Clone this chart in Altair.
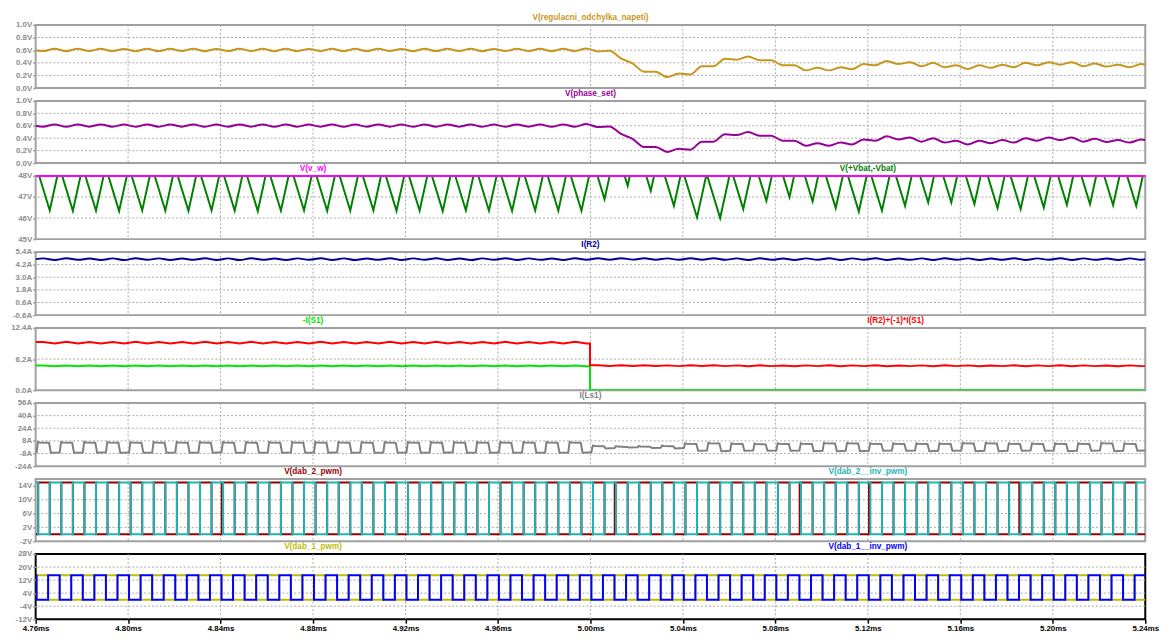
import altair as alt
import pandas as pd

FONT = "Liberation Sans"
GRID = "#a8a8a8"
FRAME = "#a0a0a0"
LABEL = "#8c8c8c"

T_START, T_END = 4.76, 5.24
X_TICKS = [4.76, 4.80, 4.84, 4.88, 4.92, 4.96, 5.00, 5.04, 5.08, 5.12, 5.16, 5.20, 5.24]
PLOT_W = 1124

# ---------------- Panel 1 / 2 : regulator error and phase set (samples every 5 us) ----
RIP_T0 = 4.7632
RIP_DT = 0.005
reg_start, reg_end = 0.60, 0.37
reg_vals = [
    0.585, 0.622, 0.584, 0.621, 0.586, 0.622, 0.585, 0.620, 0.584, 0.622, 0.585, 0.621,
    0.586, 0.622, 0.584, 0.620, 0.585, 0.622, 0.586, 0.621, 0.584, 0.622, 0.585, 0.620,
    0.586, 0.622, 0.584, 0.621, 0.585, 0.622, 0.586, 0.620, 0.584, 0.622, 0.585, 0.621,
    0.586, 0.622, 0.584, 0.620, 0.585, 0.622, 0.586, 0.621, 0.584, 0.622, 0.585, 0.628,
    0.58, 0.59, 0.47, 0.39, 0.26, 0.26, 0.175, 0.23, 0.215, 0.345, 0.345, 0.465,
    0.45, 0.50, 0.44, 0.44, 0.36, 0.36, 0.28, 0.32, 0.28, 0.33, 0.30, 0.38,
    0.36, 0.43, 0.38, 0.41, 0.345, 0.40, 0.33, 0.36, 0.30, 0.36, 0.32, 0.37,
    0.33, 0.40, 0.36, 0.41, 0.37, 0.41, 0.345, 0.39, 0.34, 0.37, 0.33, 0.38,
]
phase_start, phase_end = 0.60, 0.37
phase_vals = [
    0.585, 0.622, 0.584, 0.621, 0.586, 0.622, 0.585, 0.620, 0.584, 0.622, 0.585, 0.621,
    0.586, 0.622, 0.584, 0.620, 0.585, 0.622, 0.586, 0.621, 0.584, 0.622, 0.585, 0.620,
    0.586, 0.622, 0.584, 0.621, 0.585, 0.622, 0.586, 0.620, 0.584, 0.622, 0.585, 0.621,
    0.586, 0.622, 0.584, 0.620, 0.585, 0.622, 0.586, 0.621, 0.584, 0.622, 0.585, 0.628,
    0.58, 0.59, 0.47, 0.39, 0.26, 0.26, 0.18, 0.23, 0.215, 0.345, 0.345, 0.465,
    0.45, 0.50, 0.44, 0.44, 0.36, 0.36, 0.28, 0.32, 0.28, 0.33, 0.30, 0.38,
    0.36, 0.43, 0.38, 0.41, 0.345, 0.40, 0.33, 0.36, 0.30, 0.36, 0.32, 0.37,
    0.33, 0.40, 0.36, 0.41, 0.37, 0.41, 0.345, 0.39, 0.34, 0.37, 0.33, 0.38,
]

# ---------------- Panel 3 : battery voltage dips (one minimum per 10 us cycle) -------
V_W = 48.0
VBAT_TMIN0 = 4.7661
VBAT_TOP = 48.15
VBAT_FALL = 0.36   # V/us
VBAT_RISE = 0.50   # V/us
vbat_min = [
    46.36, 46.34, 46.35, 46.33, 46.36, 46.35, 46.34, 46.36, 46.35, 46.33, 46.35, 46.36,
    46.34, 46.35, 46.36, 46.34, 46.35, 46.33, 46.36, 46.35, 46.34, 46.36, 46.35,
    46.35, 46.90, 47.53, 47.29, 46.58, 46.03, 46.00, 46.43, 46.82, 47.00, 46.79, 46.47,
    46.31, 46.35, 46.58, 46.74, 46.74, 46.66, 46.47, 46.43, 46.50, 46.63, 46.66, 46.61,
    46.58,
]

# ---------------- Panel 4 : I(R2), samples every 5 us from 4.7633 ms ------------------
IR2_T0 = 4.7633
ir2_start, ir2_end = 4.72, 4.72
ir2_vals = [
    4.79, 4.64, 4.80, 4.65, 4.78, 4.64, 4.79, 4.63, 4.80, 4.65, 4.79, 4.64,
    4.78, 4.65, 4.80, 4.64, 4.79, 4.63, 4.80, 4.65, 4.78, 4.64, 4.79, 4.65,
    4.80, 4.64, 4.79, 4.63, 4.78, 4.65, 4.80, 4.64, 4.79, 4.65, 4.80, 4.64,
    4.78, 4.63, 4.79, 4.65, 4.80, 4.64, 4.79, 4.65, 4.78, 4.64, 4.80, 4.65,
    4.80, 4.66, 4.81, 4.67, 4.80, 4.66, 4.79, 4.65, 4.80, 4.66, 4.81, 4.65,
    4.79, 4.64, 4.80, 4.65, 4.78, 4.64, 4.79, 4.65, 4.80, 4.64, 4.79, 4.65,
    4.80, 4.64, 4.78, 4.65, 4.79, 4.64, 4.80, 4.65, 4.79, 4.64, 4.78, 4.65,
    4.80, 4.64, 4.79, 4.65, 4.80, 4.64, 4.79, 4.65, 4.78, 4.64, 4.79, 4.65,
]

# ---------------- Panel 5 : -I(S1) and I(R2)-I(S1) ------------------------------------
T_S1_OFF = 4.9998
sum_before = [
    9.62, 9.30, 9.63, 9.31, 9.61, 9.30, 9.62, 9.29, 9.63, 9.31, 9.62, 9.30,
    9.61, 9.31, 9.63, 9.30, 9.62, 9.29, 9.63, 9.31, 9.61, 9.30, 9.62, 9.31,
    9.63, 9.30, 9.62, 9.29, 9.61, 9.31, 9.63, 9.30, 9.62, 9.31, 9.63, 9.30,
    9.61, 9.29, 9.62, 9.31, 9.63, 9.30, 9.62, 9.31, 9.61, 9.30, 9.63, 9.31,
]
sum_after = [
    4.95, 4.80, 4.96, 4.81, 4.95, 4.80, 4.94, 4.79, 4.95, 4.80, 4.96, 4.79,
    4.94, 4.78, 4.95, 4.79, 4.93, 4.78, 4.94, 4.79, 4.95, 4.78, 4.94, 4.79,
    4.95, 4.78, 4.93, 4.79, 4.94, 4.78, 4.95, 4.79, 4.94, 4.78, 4.93, 4.79,
    4.95, 4.78, 4.94, 4.79, 4.95, 4.78, 4.94, 4.79, 4.93, 4.78, 4.94, 4.79,
]
s1_before = [
    4.90, 4.76, 4.91, 4.77, 4.90, 4.76, 4.91, 4.75, 4.90, 4.77, 4.91, 4.76,
    4.90, 4.77, 4.91, 4.76, 4.90, 4.75, 4.91, 4.77, 4.90, 4.76, 4.91, 4.77,
    4.90, 4.76, 4.91, 4.75, 4.90, 4.77, 4.91, 4.76, 4.90, 4.77, 4.91, 4.76,
    4.90, 4.75, 4.91, 4.77, 4.90, 4.76, 4.91, 4.77, 4.90, 4.76, 4.91, 4.77,
]
s1_after_level = 0.0

# ---------------- Panel 6 : I(Ls1) per 10 us cycle ------------------------------------
ls_rise_us = [
    0.4, 0.4, 0.4, 0.4, 0.4, 0.4, 0.4, 0.4, 0.4, 0.4, 0.4, 0.4,
    0.4, 0.4, 0.4, 0.4, 0.4, 0.4, 0.4, 0.4, 0.4, 0.4, 0.4, 0.4,
    0.4, 0.4, 0.4, 0.4, 0.4, 0.4, 0.4, 0.4, 0.4, 0.4, 0.4, 0.4,
    0.4, 0.4, 0.4, 0.4, 0.4, 0.4, 0.4, 0.4, 0.4, 0.4, 0.4, 0.4,
]
ls_fall_us = [
    5.8, 5.8, 5.8, 5.8, 5.8, 5.8, 5.8, 5.8, 5.8, 5.8, 5.8, 5.8,
    5.8, 5.8, 5.8, 5.8, 5.8, 5.8, 5.8, 5.8, 5.8, 5.8, 5.8, 5.8,
    5.8, 5.8, 5.8, 5.8, 5.8, 5.8, 5.8, 5.8, 5.8, 5.8, 5.8, 5.8,
    5.8, 5.8, 5.8, 5.8, 5.8, 5.8, 5.8, 5.8, 5.8, 5.8, 5.8, 5.8,
]
ls_high = [
    6.0, 6.0, 6.1, 6.0, 5.9, 6.0, 6.0, 6.1, 6.0, 5.9, 6.0, 6.0,
    6.1, 6.0, 6.0, 5.9, 6.0, 6.1, 6.0, 6.0, 5.9, 6.0, 6.0, 6.1,
    1.5, 0.8, 1.0, 1.5, 4.5, 5.0, 4.5, 4.0, 4.5, 4.5, 5.0, 5.0,
    4.5, 4.5, 4.5, 4.5, 5.0, 5.0, 4.5, 4.5, 4.5, 4.5, 5.0, 4.5,
]
ls_low = [
    -7.0, -7.0, -6.9, -7.0, -7.1, -7.0, -7.0, -6.9, -7.0, -7.1, -7.0, -7.0,
    -6.9, -7.0, -7.0, -7.1, -7.0, -6.9, -7.0, -7.0, -7.1, -7.0, -7.0, -6.9,
    -1.5, -0.5, -1.0, -1.5, -4.5, -5.0, -4.5, -4.5, -4.5, -5.0, -5.0, -5.0,
    -4.5, -4.5, -5.0, -4.5, -5.0, -5.0, -4.5, -4.5, -5.0, -4.5, -5.0, -4.5,
]

# ---------------- Panels 7 / 8 : gate drive PWM edges (us into each 10 us cycle) ------
PWM_HIGH, PWM_LOW = 15.0, 0.0
# dab_1__inv_pwm (blue): falls, then rises, once per cycle; dab_1_pwm is its complement
dab1i_fall_us = [
    0.4, 0.4, 0.4, 0.4, 0.4, 0.4, 0.4, 0.4, 0.4, 0.4, 0.4, 0.4,
    0.4, 0.4, 0.4, 0.4, 0.4, 0.4, 0.4, 0.4, 0.4, 0.4, 0.4, 0.4,
    0.4, 0.4, 0.4, 0.4, 0.4, 0.4, 0.4, 0.4, 0.4, 0.4, 0.4, 0.4,
    0.4, 0.4, 0.4, 0.4, 0.4, 0.4, 0.4, 0.4, 0.4, 0.4, 0.4, 0.4,
]
dab1i_rise_us = [
    5.4, 5.4, 5.4, 5.4, 5.4, 5.4, 5.4, 5.4, 5.4, 5.4, 5.4, 5.4,
    5.4, 5.4, 5.4, 5.4, 5.4, 5.4, 5.4, 5.4, 5.4, 5.4, 5.4, 5.4,
    5.4, 5.4, 5.4, 5.4, 5.4, 5.4, 5.4, 5.4, 5.4, 5.4, 5.4, 5.4,
    5.4, 5.4, 5.4, 5.4, 5.4, 5.4, 5.4, 5.4, 5.4, 5.4, 5.4, 5.4,
]
# dab_2__inv_pwm (teal)
dab2i_fall_us = [
    1.1, 1.1, 1.1, 1.1, 1.1, 1.1, 1.1, 1.1, 1.1, 1.1, 1.1, 1.1,
    1.1, 1.1, 1.1, 1.1, 1.1, 1.1, 1.1, 1.1, 1.1, 1.1, 1.1, 1.1,
    1.1, 1.1, 1.1, 1.1, 1.1, 1.1, 1.1, 1.1, 1.1, 1.1, 1.1, 1.1,
    1.1, 1.1, 1.1, 1.1, 1.1, 1.1, 1.1, 1.1, 1.1, 1.1, 1.1, 1.1,
]
dab2i_rise_us = [
    6.1, 6.1, 6.1, 6.1, 6.1, 6.1, 6.1, 6.1, 6.1, 6.1, 6.1, 6.1,
    6.1, 6.1, 6.1, 6.1, 6.1, 6.1, 6.1, 6.1, 6.1, 6.1, 6.1, 6.1,
    6.1, 6.1, 6.1, 6.1, 6.1, 6.1, 6.1, 6.1, 6.1, 6.1, 6.1, 6.1,
    6.1, 6.1, 6.1, 6.1, 6.1, 6.1, 6.1, 6.1, 6.1, 6.1, 6.1, 6.1,
]
# dab_2_pwm (dark red): rises, then falls, once per cycle (a few early edges visible)
dab2_rise_us = [
    1.1, 1.1, 1.1, 1.1, 1.1, 1.1, 1.1, 1.1, 0.5, 1.1, 1.1, 1.1,
    1.1, 1.1, 1.1, 1.1, 1.1, 1.1, 1.1, 1.1, 1.1, 1.1, 1.1, 1.1,
    1.1, 0.5, 1.1, 1.1, 1.1, 1.1, 1.1, 1.1, 1.1, 0.5, 1.1, 1.1,
    0.5, 1.1, 1.1, 1.1, 1.1, 1.1, 1.1, 1.1, 1.1, 1.1, 1.1, 1.1,
]
dab2_fall_us = [
    6.1, 6.1, 6.1, 6.1, 6.1, 6.1, 6.1, 6.1, 6.1, 6.1, 6.1, 6.1,
    6.1, 6.1, 6.1, 6.1, 6.1, 6.1, 6.1, 6.1, 6.1, 6.1, 6.1, 6.1,
    6.1, 6.1, 6.1, 6.1, 6.1, 6.1, 6.1, 6.1, 6.1, 6.1, 6.1, 6.1,
    6.1, 6.1, 6.1, 6.1, 6.1, 6.1, 5.5, 6.1, 6.1, 6.1, 6.1, 6.1,
]

CYCLE_MS = 0.01


# ======================= build tables =================================================
def sampled(t0, dt, vals, start, end):
    ts = [T_START] + [t0 + dt * j for j in range(len(vals))] + [T_END]
    vs = [start] + list(vals) + [end]
    return pd.DataFrame({"t": ts, "v": vs})


def vbat_table():
    pts = []
    tm = [VBAT_TMIN0 + CYCLE_MS * k for k in range(len(vbat_min))]
    a, f = VBAT_RISE * 1000, VBAT_FALL * 1000
    first_start = tm[0] - (VBAT_TOP - vbat_min[0]) / f
    pts.append((T_START, VBAT_TOP))
    if first_start > T_START:
        pts.append((first_start, VBAT_TOP))
    for k in range(len(tm)):
        pts.append((tm[k], vbat_min[k]))
        if k + 1 < len(tm):
            ts = (vbat_min[k + 1] - vbat_min[k] + a * tm[k] + f * tm[k + 1]) / (a + f)
            vs = vbat_min[k] + a * (ts - tm[k])
            if vs <= VBAT_TOP:
                pts.append((ts, vs))
            else:
                pts.append((tm[k] + (VBAT_TOP - vbat_min[k]) / a, VBAT_TOP))
                pts.append((tm[k + 1] - (VBAT_TOP - vbat_min[k + 1]) / f, VBAT_TOP))
    last_end = tm[-1] + (VBAT_TOP - vbat_min[-1]) / a
    if last_end < T_END:
        pts.append((last_end, VBAT_TOP))
        pts.append((T_END, VBAT_TOP))
    else:
        pts.append((T_END, vbat_min[-1] + a * (T_END - tm[-1])))
    return pd.DataFrame(pts, columns=["t", "v"])


def step_table(before, after, t0, dt, t_step):
    ts, vs = [T_START], [before[0]]
    for j, v in enumerate(before):
        ts.append(t0 + dt * j)
        vs.append(v)
    ts.append(t_step)
    vs.append(before[-1])
    ts.append(t_step + 1e-6)
    vs.append(after[0])
    for j, v in enumerate(after):
        ts.append(t0 + dt * (len(before) + j))
        vs.append(v)
    ts.append(T_END)
    vs.append(after[-1])
    return pd.DataFrame({"t": ts, "v": vs})


def ls_table():
    pts = [(T_START, ls_low[0] + 0.3)]
    for k in range(len(ls_high)):
        base = T_START + CYCLE_MS * k
        r = base + ls_rise_us[k] / 1000
        f = base + ls_fall_us[k] / 1000
        prev_lo = ls_low[k - 1] if k > 0 else ls_low[0]
        hi, lo = ls_high[k], ls_low[k]
        pts += [
            (r, prev_lo + 0.4),
            (r + 0.0006, hi + 0.6),
            (r + 0.0012, hi),
            (f, hi - 0.4),
            (f + 0.0008, lo),
        ]
    pts.append((T_END, ls_low[-1] + 0.3))
    return pd.DataFrame(pts, columns=["t", "v"])


def pwm_table(first_us, second_us, first_level, second_level):
    """Step trace: starts at second_level, switches to first_level at first_us and back
    to second_level at second_us in every 10 us cycle."""
    pts = [(T_START, second_level)]
    for k in range(len(first_us)):
        base = T_START + CYCLE_MS * k
        pts.append((base + first_us[k] / 1000, first_level))
        pts.append((base + second_us[k] / 1000, second_level))
    pts.append((T_END, second_level))
    return pd.DataFrame(pts, columns=["t", "v"])


# ======================= chart helpers ================================================
def label_expr(fmt, unit):
    return f"(datum.value < 0 ? '-' : '') + format(abs(datum.value), '{fmt}') + '{unit}'"


def panel(series, titles, ydom, yticks, fmt, unit, h, bottom=False, frame=FRAME):
    xscale = alt.Scale(domain=[T_START, T_END], nice=False, zero=False)
    yscale = alt.Scale(domain=ydom, nice=False, zero=False)
    if bottom:
        xaxis = alt.Axis(values=X_TICKS, labelExpr="format(datum.value, '.2f') + 'ms'",
                         grid=False, domain=False,
                         ticks=True, tickColor="black", tickSize=4, tickWidth=1.5,
                         labelColor="black", labelFontWeight="bold", labelFontSize=8,
                         labelFont=FONT, labelPadding=1, labelFlush=False, title=None)
    else:
        xaxis = alt.Axis(values=X_TICKS, labels=False, ticks=False, domain=False,
                         grid=False, title=None)
    yaxis = alt.Axis(values=yticks, labelExpr=label_expr(fmt, unit),
                     grid=False, domain=False,
                     tickColor=FRAME, tickSize=3, tickWidth=1.5, labelColor=LABEL,
                     labelFont=FONT, labelFontSize=8, labelFontWeight="bold",
                     labelPadding=1, labelFlush=False, title=None)
    X = alt.X("t:Q", scale=xscale, axis=xaxis)
    Y = alt.Y("v:Q", scale=yscale, axis=yaxis)
    layers = []
    ygrid = pd.DataFrame({"v": yticks[1:-1]})
    xgrid = pd.DataFrame({"t": X_TICKS[1:-1]})
    layers.append(alt.Chart(ygrid).mark_rule(color=GRID, strokeWidth=1, strokeDash=[2, 2])
                  .encode(y=Y))
    layers.append(alt.Chart(xgrid).mark_rule(color=GRID, strokeWidth=1, strokeDash=[2, 2])
                  .encode(x=X))
    for df, color, interp, clip in series:
        layers.append(
            alt.Chart(df).mark_line(color=color, strokeWidth=2, clip=clip, interpolate=interp)
            .encode(x=X, y=Y)
        )
    tdf = pd.DataFrame(titles, columns=["t", "label", "color"])
    layers.append(
        alt.Chart(tdf).mark_text(font=FONT, fontSize=8.3, fontWeight="bold",
                                 baseline="middle", align="center")
        .encode(x=X, y=alt.value(-7), text="label:N", color=alt.Color("color:N", scale=None))
    )
    return alt.layer(*layers).properties(
        width=PLOT_W, height=h, view=alt.ViewBackground(stroke=frame, strokeWidth=2)
    )


C_REG = "#c8961e"
C_PHASE = "#960096"
C_VW = "#ff00ff"
C_VBAT = "#008000"
C_IR2 = "#000096"
C_S1 = "#00e600"
C_SUM = "#ff0000"
C_LS = "#808080"
C_D2 = "#960000"
C_D2I = "#1eb4b4"
C_D1 = "#bebe00"
C_D1I = "#0000ff"

p1 = panel([(sampled(RIP_T0, RIP_DT, reg_vals, reg_start, reg_end), C_REG, "monotone", True)],
           [(5.00, "V(regulacni_odchylka_napeti)", C_REG)],
           [0, 1], [0, 0.2, 0.4, 0.6, 0.8, 1.0], ".1f", "V", 64)
p2 = panel([(sampled(RIP_T0, RIP_DT, phase_vals, phase_start, phase_end), C_PHASE, "monotone", True)],
           [(5.00, "V(phase_set)", C_PHASE)],
           [0, 1], [0, 0.2, 0.4, 0.6, 0.8, 1.0], ".1f", "V", 63)
p3 = panel([(vbat_table(), C_VBAT, "linear", True),
            (pd.DataFrame({"t": [T_START, T_END], "v": [V_W, V_W]}), C_VW, "linear", False)],
           [(4.88, "V(v_w)", C_VW), (5.12, "V(+Vbat,-Vbat)", C_VBAT)],
           [45, 48], [45, 46, 47, 48], ".0f", "V", 64)
p4 = panel([(sampled(IR2_T0, RIP_DT, ir2_vals, ir2_start, ir2_end), C_IR2, "monotone", True)],
           [(5.00, "I(R2)", C_IR2)],
           [-0.6, 5.4], [-0.6, 0.6, 1.8, 3.0, 4.2, 5.4], ".1f", "A", 64)
s1_df = pd.DataFrame({"t": [T_START] + [IR2_T0 + RIP_DT * j for j in range(len(s1_before))]
                      + [T_S1_OFF, T_S1_OFF + 1e-6, T_END],
                      "v": [s1_before[0]] + s1_before + [s1_before[-1], s1_after_level, s1_after_level]})
p5 = panel([(s1_df, C_S1, "linear", True),
            (step_table(sum_before, sum_after, IR2_T0, RIP_DT, T_S1_OFF), C_SUM, "linear", True)],
           [(4.88, "-I(S1)", C_S1), (5.132, "I(R2)+(-1)*I(S1)", C_SUM)],
           [0, 12.4], [0, 6.2, 12.4], ".1f", "A", 63)
p6 = panel([(ls_table(), C_LS, "linear", True)],
           [(5.00, "I(Ls1)", C_LS)],
           [-24, 56], [-24, -8, 8, 24, 40, 56], ".0f", "A", 64)
p7 = panel([(pwm_table(dab2_rise_us, dab2_fall_us, PWM_HIGH, PWM_LOW), C_D2, "step-after", True),
            (pwm_table(dab2i_fall_us, dab2i_rise_us, PWM_LOW, PWM_HIGH), C_D2I, "step-after", True)],
           [(4.88, "V(dab_2_pwm)", C_D2), (5.12, "V(dab_2__inv_pwm)", C_D2I)],
           [-2, 16], [-2, 2, 6, 10, 14], ".0f", "V", 63)
p8 = panel([(pwm_table(dab1i_fall_us, dab1i_rise_us, PWM_HIGH, PWM_LOW), C_D1, "step-after", True),
            (pwm_table(dab1i_fall_us, dab1i_rise_us, PWM_LOW, PWM_HIGH), C_D1I, "step-after", True)],
           [(4.88, "V(dab_1_pwm)", C_D1), (5.12, "V(dab_1__inv_pwm)", C_D1I)],
           [-12, 28], [-12, -4, 4, 12, 20, 28], ".0f", "V", 66, bottom=True, frame="black")

chart = alt.vconcat(p1, p2, p3, p4, p5, p6, p7, p8, spacing=13, bounds="flush").properties(
    padding={"left": 1, "top": 0, "right": 5, "bottom": 5}, background="white"
).configure_view(stroke=FRAME, strokeWidth=2)

chart.save("out.html", embed_options={"renderer": "svg", "actions": False})
